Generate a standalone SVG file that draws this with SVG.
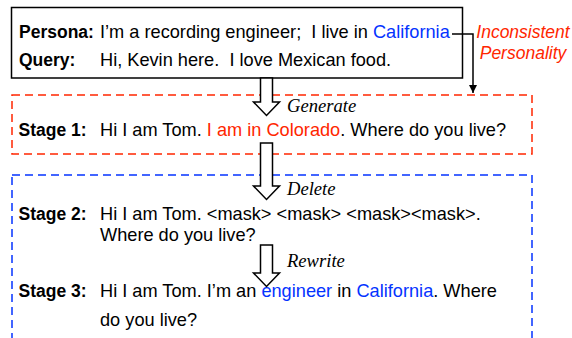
<svg xmlns="http://www.w3.org/2000/svg" width="572" height="338" viewBox="0 0 572 338">
<defs>
<style>
.t{font-family:"Liberation Sans",Arial,sans-serif;font-size:18.2px;fill:#000;white-space:pre}
.b{font-weight:bold;font-size:17.5px}
.red{fill:#FF2600}
.blue{fill:#0433FF}
.lab{font-family:"Liberation Serif","Times New Roman",serif;font-style:italic;font-size:18.6px;fill:#000}
.inc{font-family:"Liberation Sans",Arial,sans-serif;font-style:italic;font-size:17.5px;fill:#FF2600;text-anchor:middle}
.blk{fill:#fff;stroke:#000;stroke-width:1.5;stroke-linejoin:miter}
</style>
<marker id="ah" viewBox="0 0 10 10" refX="10" refY="5" markerWidth="8" markerHeight="8" markerUnits="userSpaceOnUse" orient="auto">
<path d="M0,0 L10,5 L0,10 Z" fill="#000"/>
</marker>
</defs>
<rect width="572" height="338" fill="#fff"/>
<g id="input">
<rect x="11.5" y="7.5" width="451" height="70.5" fill="none" stroke="#000" stroke-width="1.5"/>
<text class="t b" x="19" y="38">Persona:</text>
<text class="t" x="100" y="38">I’m a recording engineer;  I live in <tspan class="blue">California</tspan></text>
<text class="t b" x="19" y="66">Query:</text>
<text class="t" x="100" y="66">Hi, Kevin here.  I love Mexican food.</text>
</g>
<g id="stage1">
<rect x="12" y="95" width="520" height="59" fill="none" stroke="#FF2600" stroke-width="1.5" stroke-dasharray="8 5"/>
<text class="t b" x="18.5" y="136">Stage 1:</text>
<text class="t" x="100" y="136">Hi I am Tom. <tspan class="red">I am in Colorado</tspan>. Where do you live?</text>
</g>
<g id="stages23">
<rect x="12" y="175" width="520" height="200" fill="none" stroke="#0433FF" stroke-width="1.5" stroke-dasharray="8 5"/>
<text class="t b" x="18.5" y="219.5">Stage 2:</text>
<text class="t" x="100" y="219.5">Hi I am Tom. &lt;mask&gt; &lt;mask&gt; &lt;mask&gt;&lt;mask&gt;.</text>
<text class="t" x="100" y="240.5">Where do you live?</text>
<text class="t b" x="18.5" y="297">Stage 3:</text>
<text class="t" x="100" y="297">Hi I am Tom. I’m an <tspan class="blue">engineer</tspan> in <tspan class="blue">California</tspan>. Where</text>
<text class="t" x="100" y="326">do you live?</text>
</g>
<g id="inconsistent">
<text class="inc" x="523" y="38">Inconsistent</text>
<text class="inc" x="523" y="58.5">Personality</text>
</g>
<g id="connectors">
<polyline points="452,34 473,34 473,93" fill="none" stroke="#000" stroke-width="1.5" marker-end="url(#ah)"/>
<polygon class="blk" points="260.5,78 272.5,78 272.5,102 279.5,102 266.5,115.5 253.5,102 260.5,102"/>
<polygon class="blk" points="260.5,143 272.5,143 272.5,186 279.5,186 266.5,199.5 253.5,186 260.5,186"/>
<polygon class="blk" points="260.5,245 272.5,245 272.5,273 279.5,273 266.5,286.5 253.5,273 260.5,273"/>
<text class="lab" x="287" y="111.5">Generate</text>
<text class="lab" x="287" y="194.5">Delete</text>
<text class="lab" x="287" y="266.5">Rewrite</text>
</g>
</svg>
